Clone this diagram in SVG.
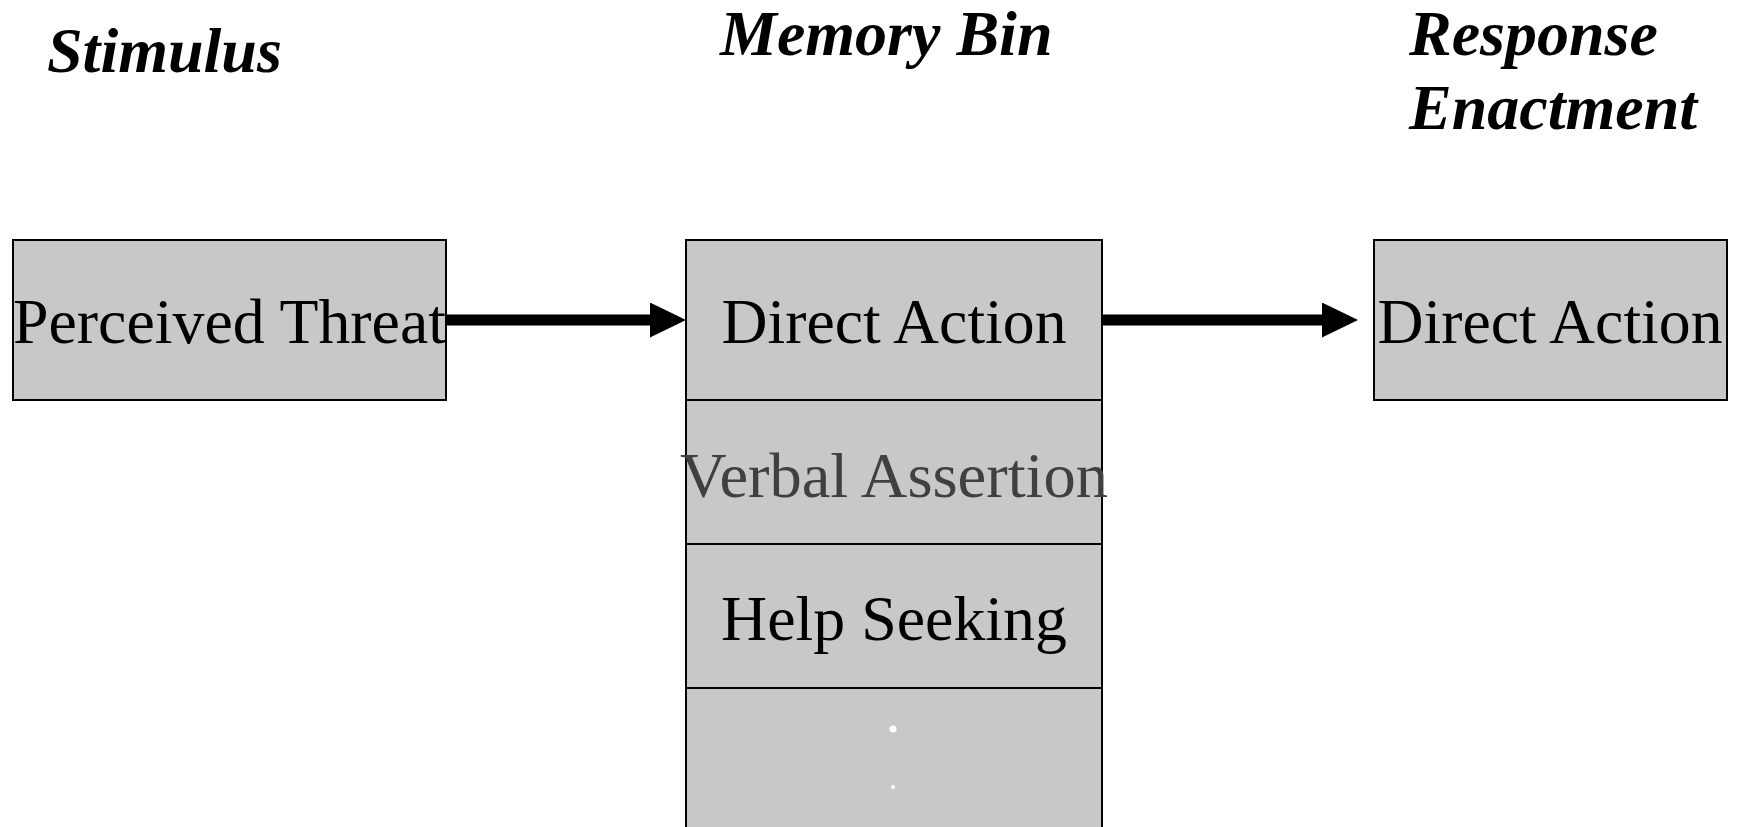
<svg xmlns="http://www.w3.org/2000/svg" width="1745" height="827" viewBox="0 0 1745 827">
  <style>
    .box { fill: #c8c8c8; stroke: #000000; stroke-width: 2; }
    .lbl { font-family: "Liberation Serif", "Times New Roman", serif; font-size: 64px; fill: #000000; }
    .head { font-family: "Liberation Serif", "Times New Roman", serif; font-size: 64px; font-weight: bold; font-style: italic; fill: #000000; }
    .conn { stroke: #000000; stroke-width: 11; fill: none; }
  </style>
  <defs>
    <marker id="arrow" markerUnits="userSpaceOnUse" viewBox="0 0 36 35" markerWidth="36" markerHeight="35" refX="0" refY="17.5" orient="auto">
      <path d="M0,0 L36,17.5 L0,35 z" fill="#000000"/>
    </marker>
  </defs>
  <rect width="1745" height="827" fill="#ffffff"/>

  <!-- column headings -->
  <g id="headings">
    <text class="head" x="47" y="72">Stimulus</text>
    <text class="head" x="720" y="55">Memory Bin</text>
    <text class="head" x="1409" y="55">Response</text>
    <text class="head" x="1409" y="129">Enactment</text>
  </g>

  <!-- stimulus -->
  <g id="perceived-threat">
    <rect class="box" x="13" y="240" width="433" height="160"/>
    <text class="lbl" x="13" y="343" textLength="433" lengthAdjust="spacingAndGlyphs">Perceived Threat</text>
  </g>

  <!-- memory bin stack -->
  <g id="bin-direct-action">
    <rect class="box" x="686" y="240" width="416" height="160"/>
    <text class="lbl" x="894" y="343" text-anchor="middle" textLength="345" lengthAdjust="spacingAndGlyphs">Direct Action</text>
  </g>
  <g id="bin-verbal-assertion">
    <rect class="box" x="686" y="400" width="416" height="144"/>
    <text class="lbl" x="894" y="497" text-anchor="middle" style="fill:#404040" textLength="428" lengthAdjust="spacingAndGlyphs">Verbal Assertion</text>
  </g>
  <g id="bin-help-seeking">
    <rect class="box" x="686" y="544" width="416" height="144"/>
    <text class="lbl" x="894" y="640" text-anchor="middle" textLength="346" lengthAdjust="spacingAndGlyphs">Help Seeking</text>
  </g>
  <g id="bin-more">
    <rect class="box" x="686" y="688" width="416" height="160"/>
    <circle cx="893" cy="729" r="3.5" fill="#ffffff"/>
    <circle cx="893" cy="787" r="2" fill="#ffffff"/>
  </g>

  <!-- response -->
  <g id="response-direct-action">
    <rect class="box" x="1374" y="240" width="353" height="160"/>
    <text class="lbl" x="1550" y="343" text-anchor="middle" textLength="345" lengthAdjust="spacingAndGlyphs">Direct Action</text>
  </g>

  <!-- connectors -->
  <g id="connectors">
    <line class="conn" x1="446" y1="320" x2="650" y2="320" marker-end="url(#arrow)"/>
    <line class="conn" x1="1102" y1="320" x2="1322" y2="320" marker-end="url(#arrow)"/>
  </g>
</svg>
